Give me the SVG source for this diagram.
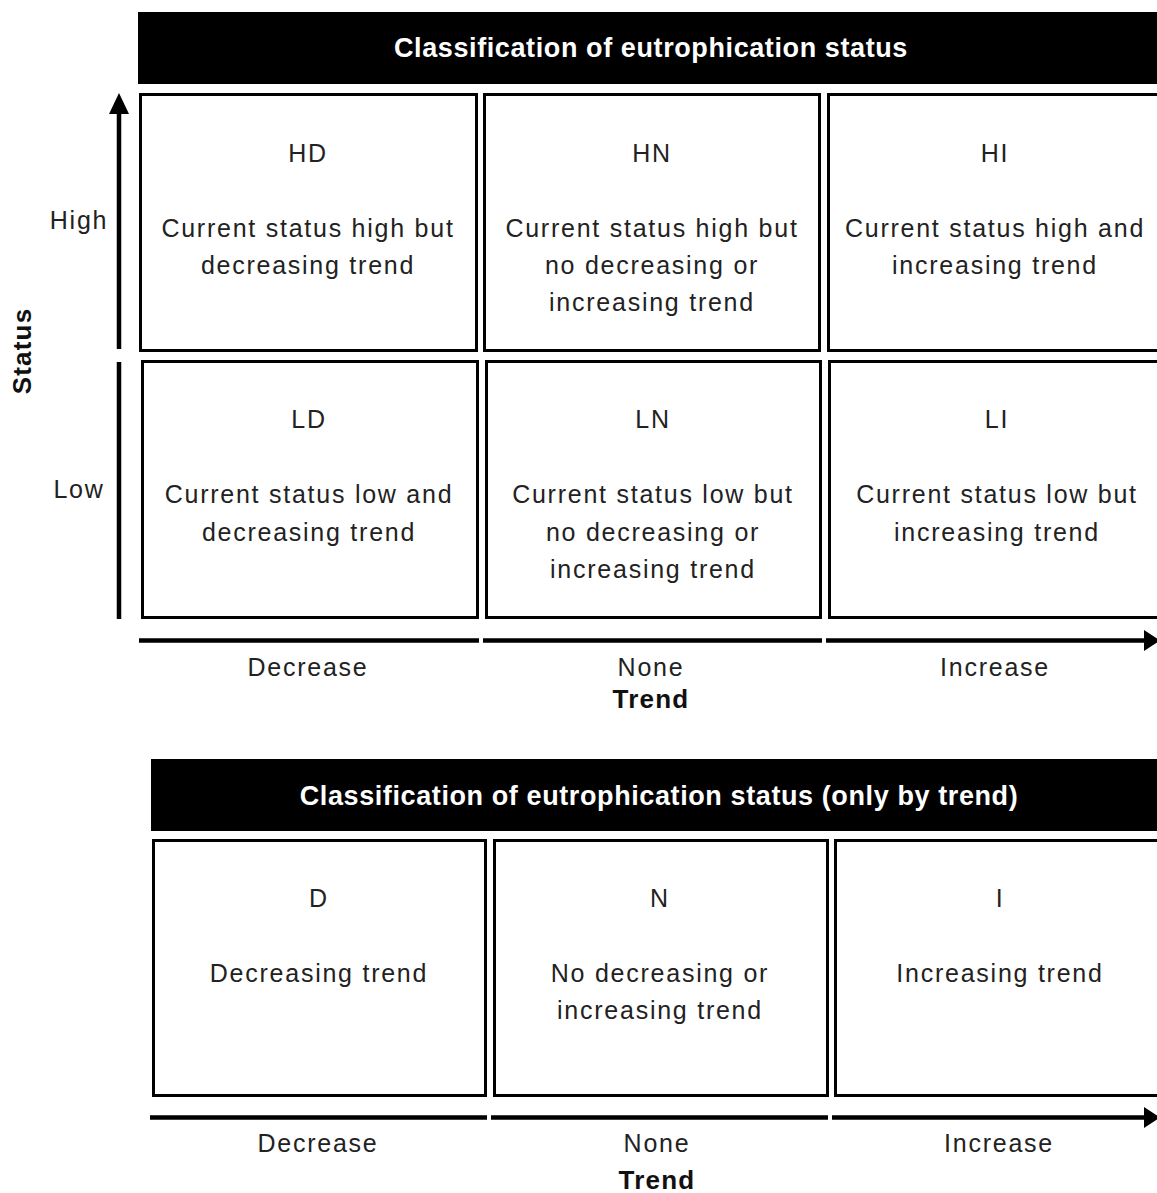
<svg xmlns="http://www.w3.org/2000/svg" width="1157" height="1193" viewBox="0 0 1157 1193">
<style>
.cell{fill:#fff;stroke:#000;stroke-width:3}
.hdr{fill:#000}
.ht{font-family:"Liberation Sans",Arial,sans-serif;font-size:27px;font-weight:bold;fill:#fff;text-anchor:middle;letter-spacing:0.6px}
.t{font-family:"Liberation Sans",Arial,sans-serif;font-size:25px;fill:#222;text-anchor:middle;letter-spacing:1.75px}
.b{font-family:"Liberation Sans",Arial,sans-serif;font-size:26px;font-weight:bold;fill:#111;text-anchor:middle;letter-spacing:1.2px}
.ax{stroke:#000;stroke-width:4.5;fill:none}
</style>

<g id="header-top">
<rect class="hdr" x="138" y="12" width="1019" height="72"/>
<text class="ht" x="651" y="57">Classification of eutrophication status</text>
</g>

<g id="HD">
<rect class="cell" x="140.5" y="94.5" width="336" height="256"/>
<text class="t" x="308" y="162">HD</text>
<text class="t" x="308" y="237">Current status high but</text>
<text class="t" x="308" y="274">decreasing trend</text>
</g>
<g id="HN">
<rect class="cell" x="484.5" y="94.5" width="335" height="256"/>
<text class="t" x="652" y="162">HN</text>
<text class="t" x="652" y="237">Current status high but</text>
<text class="t" x="652" y="274">no decreasing or</text>
<text class="t" x="652" y="311">increasing trend</text>
</g>
<g id="HI">
<rect class="cell" x="828.5" y="94.5" width="335" height="256"/>
<text class="t" x="995" y="162">HI</text>
<text class="t" x="995" y="237">Current status high and</text>
<text class="t" x="995" y="274">increasing trend</text>
</g>
<g id="LD">
<rect class="cell" x="142.5" y="361.5" width="335" height="256"/>
<text class="t" x="309" y="428">LD</text>
<text class="t" x="309" y="503">Current status low and</text>
<text class="t" x="309" y="541">decreasing trend</text>
</g>
<g id="LN">
<rect class="cell" x="486.5" y="361.5" width="334" height="256"/>
<text class="t" x="653" y="428">LN</text>
<text class="t" x="653" y="503">Current status low but</text>
<text class="t" x="653" y="541">no decreasing or</text>
<text class="t" x="653" y="578">increasing trend</text>
</g>
<g id="LI">
<rect class="cell" x="829.5" y="361.5" width="335" height="256"/>
<text class="t" x="997" y="428">LI</text>
<text class="t" x="997" y="503">Current status low but</text>
<text class="t" x="997" y="541">increasing trend</text>
</g>

<g id="axis-labels-top">
<text class="t" x="79" y="229">High</text>
<text class="t" x="79" y="498">Low</text>
<text class="b" transform="translate(31,351) rotate(-90)" x="0" y="0">Status</text>
<text class="t" x="308" y="676">Decrease</text>
<text class="t" x="651" y="676">None</text>
<text class="t" x="995" y="676">Increase</text>
<text class="b" x="651" y="708">Trend</text>
</g>

<g id="header-bottom">
<rect class="hdr" x="151" y="759" width="1006" height="72"/>
<text class="ht" x="659" y="805">Classification of eutrophication status (only by trend)</text>
</g>

<g id="D">
<rect class="cell" x="153.5" y="840.5" width="332" height="255"/>
<text class="t" x="319" y="907">D</text>
<text class="t" x="319" y="982">Decreasing trend</text>
</g>
<g id="N">
<rect class="cell" x="494.5" y="840.5" width="333" height="255"/>
<text class="t" x="660" y="907">N</text>
<text class="t" x="660" y="982">No decreasing or</text>
<text class="t" x="660" y="1019">increasing trend</text>
</g>
<g id="I">
<rect class="cell" x="835.5" y="840.5" width="330" height="255"/>
<text class="t" x="1000" y="907">I</text>
<text class="t" x="1000" y="982">Increasing trend</text>
</g>

<g id="axis-labels-bottom">
<text class="t" x="318" y="1152">Decrease</text>
<text class="t" x="657" y="1152">None</text>
<text class="t" x="999" y="1152">Increase</text>
<text class="b" x="657" y="1189">Trend</text>
</g>

<g id="connectors">
<line class="ax" x1="119" y1="349" x2="119" y2="110"/>
<path d="M109,114 L119,93 L129,114 z" fill="#000"/>
<line class="ax" x1="119" y1="362" x2="119" y2="619"/>
<line class="ax" x1="139" y1="640.5" x2="479" y2="640.5"/>
<line class="ax" x1="483" y1="640.5" x2="822" y2="640.5"/>
<line class="ax" x1="826" y1="640.5" x2="1148" y2="640.5"/>
<path d="M1144,630 L1160,640.5 L1144,651 z" fill="#000"/>
<line class="ax" x1="150" y1="1117.5" x2="487" y2="1117.5"/>
<line class="ax" x1="491" y1="1117.5" x2="828" y2="1117.5"/>
<line class="ax" x1="832" y1="1117.5" x2="1148" y2="1117.5"/>
<path d="M1144,1107 L1160,1117.5 L1144,1128 z" fill="#000"/>
</g>
</svg>
